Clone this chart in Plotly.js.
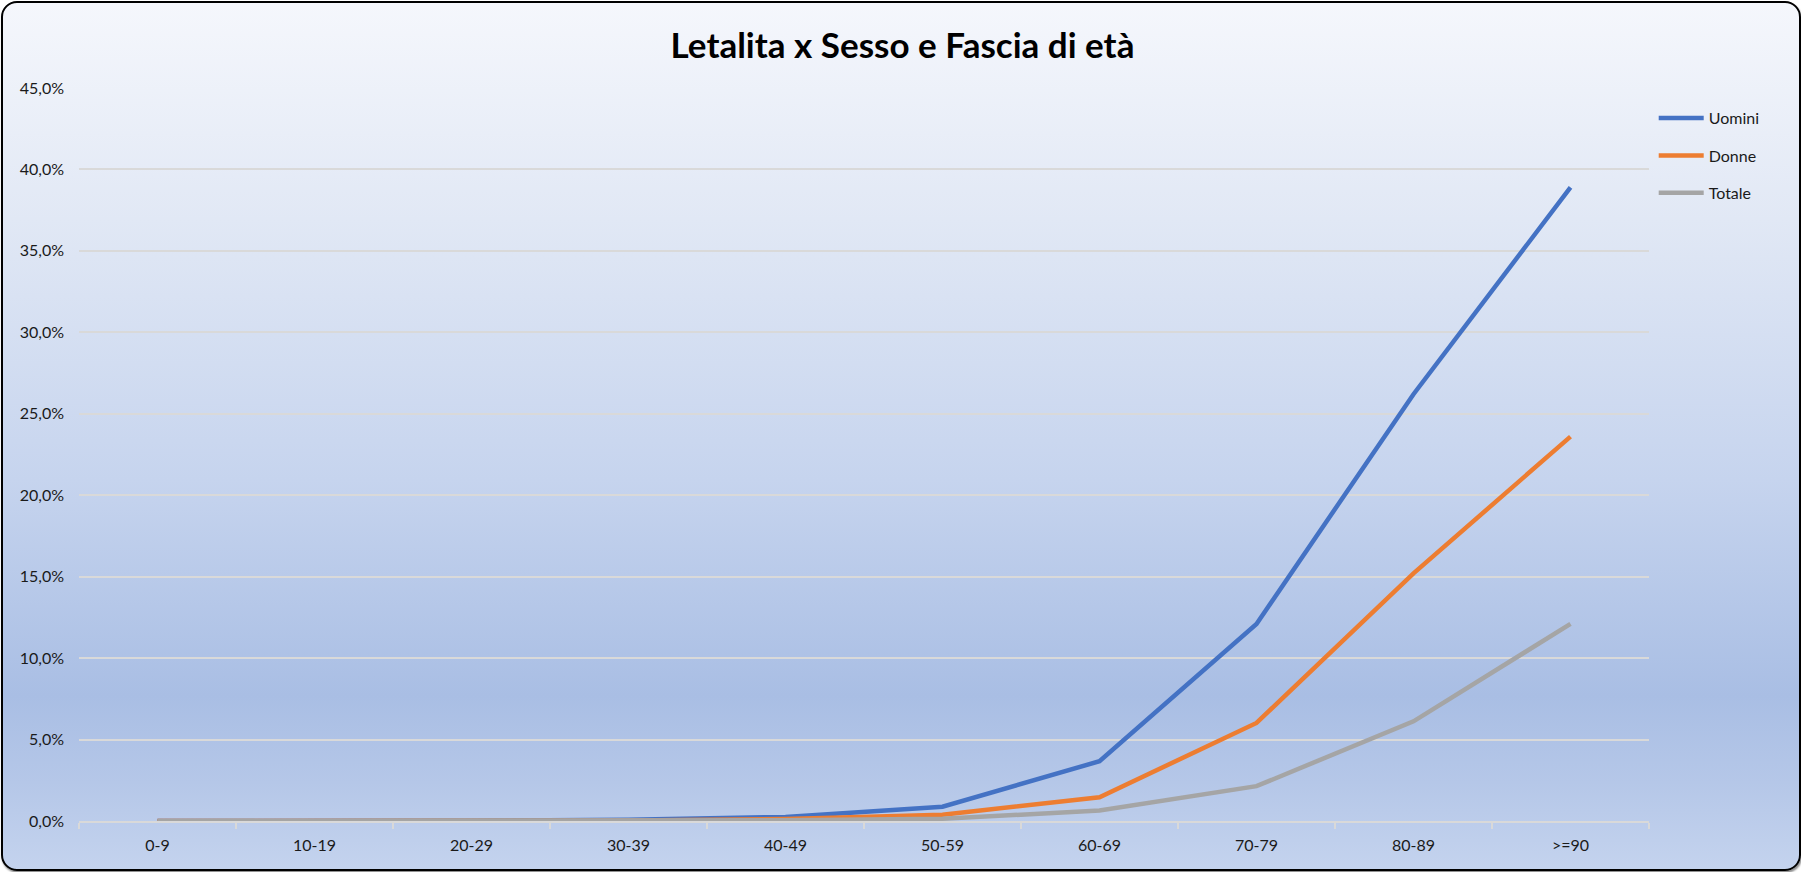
<!DOCTYPE html>
<html>
<head>
<meta charset="utf-8">
<script src="https://cdn.plot.ly/plotly-3.0.1.min.js"></script>
<style>
  html, body { margin: 0; padding: 0; background: #ffffff; }
  #frame {
    position: absolute; left: 1px; top: 1px; width: 1796px; height: 866px;
    border: 2px solid #000; border-radius: 16px;
    box-shadow: 1px 2px 2px rgba(0,0,0,0.45);
    background: linear-gradient(to bottom, #f5f7fc 0%, #e1e8f5 25%, #c6d4ee 55%, #a9bee4 80%, #b5c7e8 90%, #c4d3ee 100%);
    overflow: hidden;
  }
  #chart { position: absolute; left: -1px; top: -1px; width: 1801px; height: 872px; }
</style>
</head>
<body>
<div id="frame"><div id="chart"></div></div>
<script>
var fasce = ["0-9", "10-19", "20-29", "30-39", "40-49", "50-59", "60-69", "70-79", "80-89", ">=90"];
var uomini = [0.0000, 0.0000, 0.0001, 0.0007, 0.0025, 0.0088, 0.0367, 0.1210, 0.2620, 0.3890];
var donne  = [0.0000, 0.0000, 0.0000, 0.0003, 0.0012, 0.0038, 0.0146, 0.0602, 0.1520, 0.2360];
var totale = [0.0000, 0.0000, 0.0000, 0.0002, 0.0005, 0.0014, 0.0064, 0.0214, 0.0612, 0.1210];
var yTicks = [0, 0.05, 0.10, 0.15, 0.20, 0.25, 0.30, 0.35, 0.40, 0.45];
var yLabels = ["0,0%", "5,0%", "10,0%", "15,0%", "20,0%", "25,0%", "30,0%", "35,0%", "40,0%", "45,0%"];

function serie(nome, valori, colore, gruppo) {
  return {
    type: 'scatter', mode: 'lines', name: nome,
    x: fasce, y: valori, legendgroup: gruppo,
    line: {color: colore, width: 4.5},
    hoverinfo: 'x+y+name'
  };
}

var data = [
  serie("Uomini", uomini, "#4472c4", "g1"),
  serie("Donne", donne, "#ed7d31", "g2"),
  serie("Totale", totale, "#a5a5a5", "g3")
];

var layout = {
  width: 1801, height: 872,
  paper_bgcolor: 'rgba(0,0,0,0)',
  plot_bgcolor: 'rgba(0,0,0,0)',
  margin: {l: 77, r: 154, t: 86, b: 53},
  font: {family: 'Lato, "Open Sans", sans-serif', size: 16, color: '#1a1a1a'},
  title: {
    text: "<b>Letalita x Sesso e Fascia di età</b>",
    font: {family: 'Lato, "Open Sans", sans-serif', size: 35, color: '#000'},
    x: 0.5, xanchor: 'center', y: 0.95, yanchor: 'middle'
  },
  xaxis: {
    type: 'category',
    range: [-0.5, 9.5],
    showgrid: false,
    showline: true, linecolor: '#d9d9d9', linewidth: 2,
    ticks: 'outside', tickson: 'boundaries', ticklen: 6, tickcolor: '#d9d9d9', tickwidth: 2,
    ticklabelstandoff: 9,
    tickfont: {size: 16, color: '#1a1a1a'},
    zeroline: false, fixedrange: true
  },
  yaxis: {
    range: [0, 0.45],
    tickvals: yTicks, ticktext: yLabels,
    showgrid: true, gridcolor: '#d9d9d9', gridwidth: 2,
    showline: false, zeroline: false,
    ticks: '', ticklabelstandoff: 14,
    tickfont: {size: 16, color: '#1a1a1a'},
    fixedrange: true
  },
  showlegend: true,
  legend: {
    x: 1.003, xanchor: 'left', y: 0.982, yanchor: 'top',
    bgcolor: 'rgba(0,0,0,0)',
    traceorder: 'grouped', tracegroupgap: 13.5,
    itemwidth: 45,
    font: {size: 16, color: '#1a1a1a'}
  }
};

Plotly.newPlot('chart', data, layout, {displayModeBar: false, staticPlot: true});
</script>
</body>
</html>
